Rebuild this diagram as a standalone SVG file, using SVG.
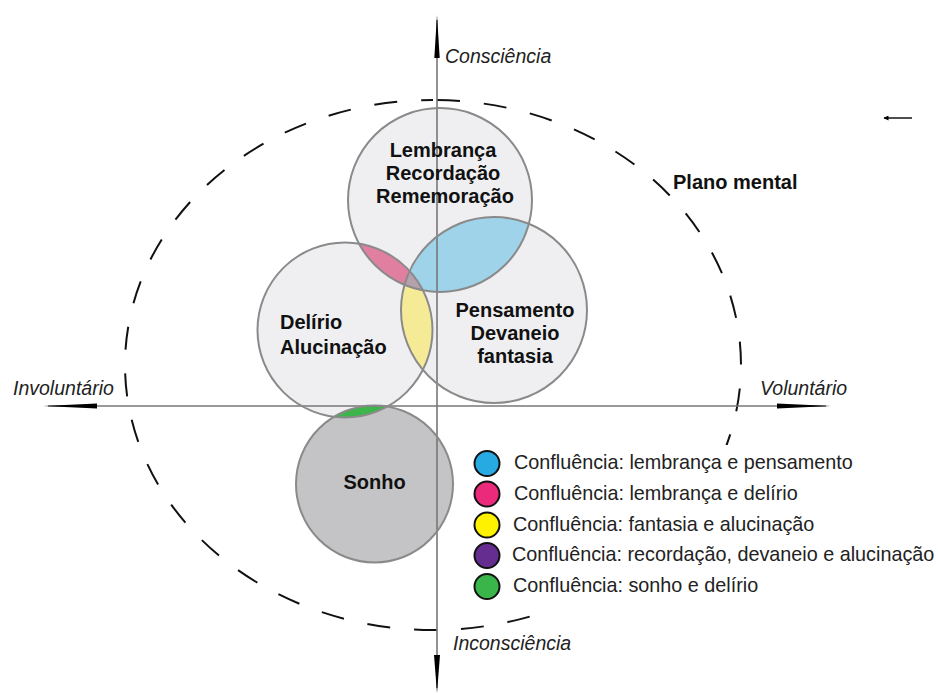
<svg xmlns="http://www.w3.org/2000/svg" width="938" height="695" viewBox="0 0 938 695">
<style>
.bg{fill:#efeff1;stroke:none}
.ol{fill:none;stroke:#8a8a8a;stroke-width:2}
.lbl{font-family:"Liberation Sans",Arial,sans-serif;font-weight:bold;font-size:20px;fill:#111}
.ax{font-family:"Liberation Sans",Arial,sans-serif;font-style:italic;font-size:19.5px;fill:#222}
.leg{font-family:"Liberation Sans",Arial,sans-serif;font-size:19.8px;fill:#222}
.axis{stroke:#777;stroke-width:1.6;fill:none}
.head{fill:#000}
.lc{stroke:#111;stroke-width:2}
</style>
<defs>
<circle id="cLg" cx="440" cy="200" r="92"/>
<circle id="cDg" cx="345" cy="330" r="87.5"/>
<circle id="cPg" cx="494" cy="310" r="93"/>
<circle id="cSg" cx="374.5" cy="484" r="78.5"/>
<clipPath id="clipL"><use href="#cLg"/></clipPath>
<clipPath id="clipD"><use href="#cDg"/></clipPath>
<clipPath id="clipP"><use href="#cPg"/></clipPath>
<marker id="arr" viewBox="0 0 10 10" refX="9" refY="5" markerWidth="7" markerHeight="5" orient="auto" markerUnits="userSpaceOnUse">
<path d="M0,0 L10,5 L0,10 Z" fill="#000"/>
</marker>
</defs>
<rect width="938" height="695" fill="#fff"/>
<g id="plano-mental">
<path d="M433,100 A308,265 0 0 1 433,630 A308,265 0 0 1 433,100" fill="none" stroke="#111" stroke-width="2" stroke-dasharray="23 24" stroke-dashoffset="-4"/>
<text class="lbl" x="673" y="189">Plano mental</text>
</g>
<g id="fills">
<use href="#cLg" class="bg"/>
<use href="#cDg" class="bg"/>
<use href="#cPg" class="bg"/>
<use href="#cSg" fill="#c4c4c6"/>
</g>
<g id="confluences">
<use href="#cDg" fill="#e07f9f" clip-path="url(#clipL)"/>
<use href="#cPg" fill="#f5eb97" clip-path="url(#clipD)"/>
<use href="#cPg" fill="#9ed3ea" clip-path="url(#clipL)"/>
<g clip-path="url(#clipL)"><use href="#cPg" fill="#b4a1ab" clip-path="url(#clipD)"/></g>
<use href="#cSg" fill="#3db54a" clip-path="url(#clipD)"/>
</g>
<g id="connectors">
<line class="axis" x1="437" y1="20" x2="437" y2="688"/>
<line class="axis" x1="48" y1="406" x2="826" y2="406"/>
<polygon class="head" points="437,15 434.3,58 439.7,58"/>
<polygon class="head" points="437,693 434,655 440,655"/>
<polygon class="head" points="43,406 97,403.5 97,408.5"/>
<polygon class="head" points="831,406 777,403.5 777,408.5"/>
<line x1="912" y1="118" x2="884" y2="118" stroke="#222" stroke-width="1.6" marker-end="url(#arr)"/>
</g>
<g id="node-lembranca">
<use href="#cLg" class="ol"/>
<text class="lbl" text-anchor="middle" x="443" y="157">Lembrança</text>
<text class="lbl" text-anchor="middle" x="443" y="180">Recordação</text>
<text class="lbl" text-anchor="middle" x="445" y="203">Rememoração</text>
</g>
<g id="node-pensamento">
<use href="#cPg" class="ol"/>
<text class="lbl" text-anchor="middle" x="515" y="317">Pensamento</text>
<text class="lbl" text-anchor="middle" x="515" y="340">Devaneio</text>
<text class="lbl" text-anchor="middle" x="515" y="363">fantasia</text>
</g>
<g id="node-delirio">
<use href="#cDg" class="ol"/>
<text class="lbl" x="280" y="329">Delírio</text>
<text class="lbl" x="280" y="354">Alucinação</text>
</g>
<g id="node-sonho">
<use href="#cSg" class="ol"/>
<text class="lbl" text-anchor="middle" x="374.5" y="489">Sonho</text>
</g>
<g id="axis-labels">
<text class="ax" x="445" y="63">Consciência</text>
<text class="ax" x="453" y="650">Inconsciência</text>
<text class="ax" x="13" y="395">Involuntário</text>
<text class="ax" x="760" y="395">Voluntário</text>
</g>
<g id="legend">
<rect x="470" y="445" width="468" height="166" fill="#fff"/>
<circle class="lc" cx="487" cy="463.5" r="12.5" fill="#27aae1"/>
<circle class="lc" cx="487" cy="494" r="12.5" fill="#ec2a7b"/>
<circle class="lc" cx="487" cy="525" r="12.5" fill="#fff200"/>
<circle class="lc" cx="487" cy="555.5" r="12.5" fill="#662d91"/>
<circle class="lc" cx="487" cy="586.5" r="12.5" fill="#39b54a"/>
<text class="leg" x="514" y="469">Confluência: lembrança e pensamento</text>
<text class="leg" x="514" y="499.5">Confluência: lembrança e delírio</text>
<text class="leg" x="513" y="530.5">Confluência: fantasia e alucinação</text>
<text class="leg" x="512" y="561">Confluência: recordação, devaneio e alucinação</text>
<text class="leg" x="513" y="592">Confluência: sonho e delírio</text>
</g>
</svg>
